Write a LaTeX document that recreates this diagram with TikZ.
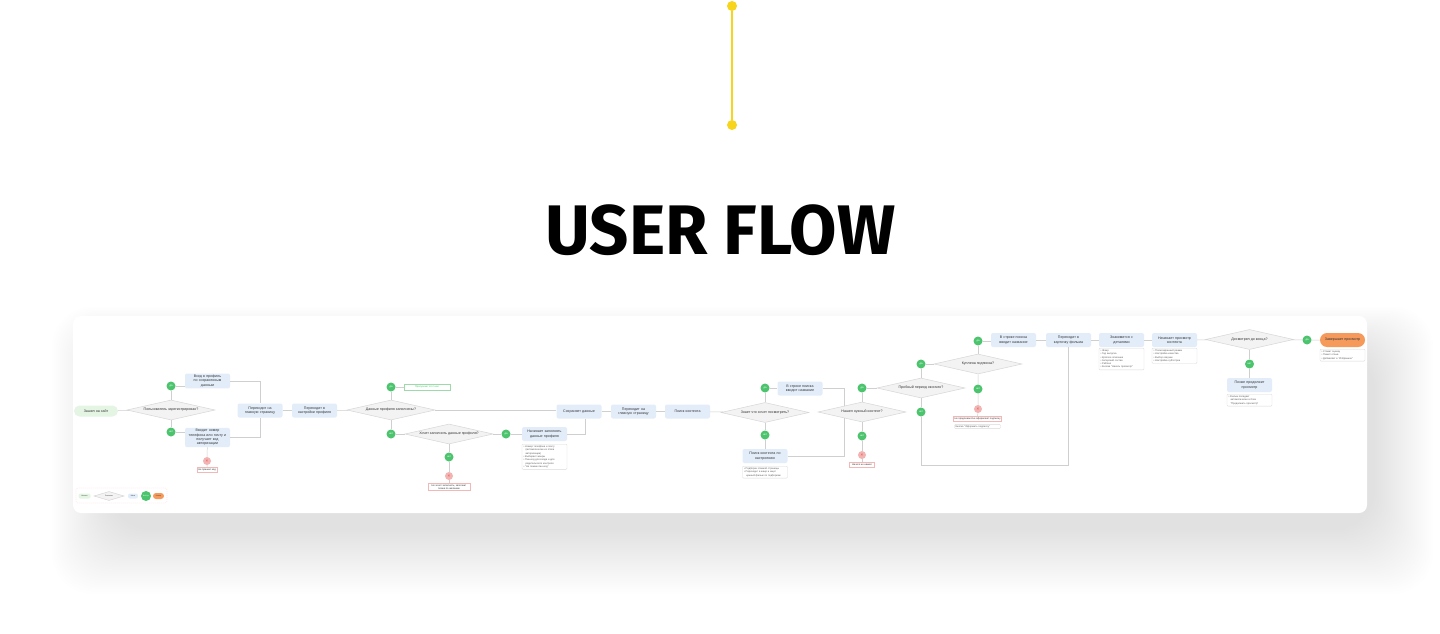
\documentclass[tikz,border=0pt]{standalone}
\usepackage{fontspec}
\setmainfont{Liberation Sans}
\newfontfamily\titlefont{Fira Sans}
\usepackage{graphicx}
\usetikzlibrary{shapes.geometric,calc}
\definecolor{flowyellow}{HTML}{F7D51D}
\definecolor{stepblue}{HTML}{E3EDFA}
\definecolor{startgreen}{HTML}{E4F5E4}
\definecolor{diafill}{HTML}{F3F3F3}
\definecolor{diagray}{HTML}{D6D6D6}
\definecolor{ansgreen}{HTML}{4CC46E}
\definecolor{stoppink}{HTML}{F3B3B3}
\definecolor{stopred}{HTML}{D9483F}
\definecolor{failred}{HTML}{F2B8B8}
\definecolor{okgreen}{HTML}{9ED9AA}
\definecolor{notegray}{HTML}{DADADA}
\definecolor{linegray}{HTML}{CFCFCF}
\definecolor{finishorange}{HTML}{F59A5A}
\definecolor{textgray}{HTML}{333333}
\newcommand\flowfont{\fontsize{3.6}{4.3}\selectfont}
\newcommand\notefont{\fontsize{2.5}{3.3}\selectfont}
\newcommand\legendfont{\fontsize{1.8}{2.2}\selectfont}
\newcommand\cont{\hspace*{2pt}}
\begin{document}
\begin{tikzpicture}[x=1pt, y=-1pt,
    stepbox/.style={rectangle, rounded corners=2pt, fill=stepblue, text=textgray, text width=42pt, minimum height=14pt, align=center, inner sep=1.5pt, font=\flowfont},
    startpill/.style={rectangle, rounded corners=5.5pt, fill=startgreen, text=textgray, minimum width=44pt, minimum height=11pt, inner sep=1pt, font=\flowfont},
    finishpill/.style={rectangle, rounded corners=7pt, fill=finishorange, text=textgray, minimum width=45pt, minimum height=14pt, inner sep=1pt, font=\flowfont},
    decision/.style={diamond, draw=diagray, fill=diafill, line width=0.5pt, aspect=4.4, minimum width=88pt, minimum height=20pt, inner sep=0pt, text=textgray, font=\flowfont},
    answer/.style={circle, fill=ansgreen, text=white, minimum size=9pt, inner sep=0pt, font=\fontsize{2.6}{2.6}\selectfont},
    stopmark/.style={circle, fill=stoppink, text=stopred, minimum size=8pt, inner sep=0pt, font=\fontsize{4.5}{4.5}\selectfont},
    failbox/.style={rectangle, draw=failred, fill=white, line width=0.4pt, text=textgray, align=center, minimum height=5pt, inner sep=1pt, font=\notefont},
    okbox/.style={rectangle, draw=okgreen, fill=white, line width=0.4pt, text=ansgreen, minimum width=46pt, minimum height=6pt, inner sep=0.5pt, font=\notefont},
    notebox/.style={rectangle, draw=notegray, fill=white, rounded corners=1pt, line width=0.4pt, text=textgray!80, text width=42pt, align=left, inner sep=1.5pt, font=\notefont},
    flow/.style={draw=linegray, line width=0.5pt},
    knob/.style={circle, fill=flowyellow, minimum size=10pt, inner sep=0pt}]
\useasboundingbox (0,0) rectangle (1440,634);
\fill[white] (0,0) rectangle (1440,634);
\node[knob] (knobtop) at (732,6) {};
\node[knob] (knobbot) at (732,125) {};
\draw[flowyellow, line width=2.5pt] (knobtop) -- (knobbot);
\node[font=\titlefont\bfseries, text=black, inner sep=0pt] (title) at (720.5,230.5) {\resizebox*{350pt}{51pt}{USER FLOW}};
\foreach \i in {0,...,29}
    \fill[black, opacity=0.003, rounded corners=40pt] (110-2*\i,350-1.5*\i) rectangle (1375+2*\i,530+2.2*\i);
\fill[white, rounded corners=8pt] (73,316) rectangle (1367,513);

\node[startpill] (start) at (96,411) {Зашел на сайт};
\node[decision] (registered) at (171,410) {Пользователь зарегистрирован?};
\node[answer] (regyes) at (171,386) {да};
\node[answer] (regno) at (171,432) {нет};
\node[stepbox] (login) at (207.5,381) {Вход в профиль\\по сохраненным\\данным};
\node[stepbox] (code) at (207.5,437.5) {Вводит номер\\телефона или почту и\\получает код\\авторизации};
\node[stopmark] (codex) at (207,461) {×};
\node[failbox, minimum width=20pt] (nocode) at (207,469.5) {Не пришел код};
\node[stepbox] (home1) at (260,410.5) {Переходит на\\главную страницу};
\node[stepbox] (settings) at (314.5,410.5) {Переходит в\\настройки профиля};
\node[decision] (filled) at (391,410) {Данные профиля заполнены?};
\node[answer] (filledyes) at (391,387) {да};
\node[okbox] (skip) at (427,387) {Пропускает этот шаг};
\node[answer] (filledno) at (391,434) {нет};
\node[decision] (wantfill) at (449,434) {Хочет заполнить данные профиля?};
\node[answer] (wantyes) at (506,434) {да};
\node[stepbox] (fillin) at (544.5,434) {Начинает заполнять\\данные профиля};
\node[notebox, anchor=north] (fillnote) at (544.5,444) {• Номер телефона и почту\\\cont(автоматически из этапа\\\cont авторизации)\\• Выбирает жанры\\• Пин-код для входа и для\\\cont родительского контроля\\• “Не помню пин-код”};
\node[answer] (wantno) at (449,457) {нет};
\node[stopmark] (wantx) at (449,476) {×};
\node[failbox, minimum width=42pt] (laterfill) at (449,487) {Не хочет заполнять, заполнит\\позже по желанию};
\node[stepbox] (save) at (579,411.5) {Сохраняет данные};
\node[stepbox] (home2) at (633.5,411.5) {Переходит на\\главную страницу};
\node[stepbox] (search) at (687.5,411.5) {Поиск контента};
\node[decision] (knows) at (765,412.5) {Знает что хочет посмотреть?};
\node[answer] (knowsyes) at (765,388) {да};
\node[stepbox] (query1) at (800,388.5) {В строке поиска\\вводит название};
\node[answer] (knowsno) at (765,435) {нет};
\node[stepbox] (mood) at (765,456) {Поиск контента по\\настроению};
\node[notebox, anchor=north] (moodnote) at (765,466) {• Подборки главной страницы\\• Переходит в жанр и ищет\\\cont нужный фильм по подборкам};
\node[decision] (found) at (862,412) {Нашел нужный контент?};
\node[answer] (foundyes) at (862,388) {да};
\node[answer] (foundno) at (862,436) {нет};
\node[stopmark] (foundx) at (862,455) {×};
\node[failbox, minimum width=25pt] (nothing) at (862,464.5) {Ничего не нашел};
\node[decision] (trial) at (921,388) {Пробный период окончен?};
\node[answer] (trialyes) at (921,364) {да};
\node[answer] (trialno) at (921,412) {нет};
\node[decision] (paid) at (978,364) {Куплена подписка?};
\node[answer] (paidyes) at (978,341) {да};
\node[stepbox] (query2) at (1013.5,340) {В строке поиска\\вводит название};
\node[answer] (paidno) at (978,389) {нет};
\node[stopmark] (paidx) at (978,409) {×};
\node[failbox, minimum width=47pt] (nosub) at (977.5,419) {Не продлевает/не оформляет подписку};
\node[notebox, text width=44pt, inner sep=1pt] (subbtn) at (977.5,426.5) {Кнопка “Оформить подписку”};
\node[stepbox] (card) at (1068.5,340) {Переходит в\\карточку фильма};
\node[stepbox] (details) at (1121.5,340) {Знакомится с\\деталями};
\node[notebox, anchor=north] (detailsnote) at (1121.5,348) {• Жанр\\• Год выпуска\\• Краткое описание\\• Актерский состав\\• Рейтинг\\• Кнопка “Начать просмотр”};
\node[stepbox] (watch) at (1174.5,340) {Начинает просмотр\\контента};
\node[notebox, anchor=north] (watchnote) at (1174.5,348) {• Полноэкранный режим\\• Настройка качества\\• Выбор озвучки\\• Настройка субтитров};
\node[decision] (ended) at (1249.5,339.5) {Досмотрел до конца?};
\node[answer] (endedyes) at (1307,340) {да};
\node[finishpill] (finish) at (1342.5,340) {Завершает просмотр};
\node[notebox, anchor=north] (finishnote) at (1342.5,349) {• Ставит оценку\\• Пишет отзыв\\• Добавляет в “Избранное”};
\node[answer] (endedno) at (1249.5,364) {нет};
\node[stepbox] (resume) at (1249.5,385) {Позже продолжит\\просмотр};
\node[notebox, anchor=north] (resumenote) at (1249.5,394) {• Фильм попадает\\\cont автоматически в блок\\\cont “Продолжить просмотр”};

\node[draw=failred!70, dashed, dash pattern=on 1pt off 1pt, line width=0.3pt, rounded corners=1.5pt, minimum width=91pt, minimum height=15pt] (legend) at (121.5,495.5) {};
\node[startpill, minimum width=12pt, minimum height=5pt, rounded corners=2pt, font=\legendfont] (keystart) at (84.5,496) {Начало};
\node[decision, minimum width=30pt, minimum height=9pt, font=\legendfont] (keydecision) at (109,496) {Решение};
\node[stepbox, text width=8pt, minimum height=5pt, inner sep=1pt, font=\legendfont] (keystep) at (133,496) {Шаги};
\node[answer, minimum size=10pt, font=\legendfont] (keyanswer) at (146,496) {Выбор};
\node[finishpill, minimum width=11pt, minimum height=6pt, rounded corners=3pt, font=\legendfont] (keyfinish) at (158.5,496) {Конец};

\coordinate (foundtop) at ($(found.north)!0.41!(found.west)$);
\coordinate (foundbot) at ($(found.south)!0.41!(found.west)$);
\coordinate (bypass) at (921,465);
\draw[flow] (start) -- (registered);
\draw[flow] (registered) -- (regyes) (regyes) -- (regyes -| login.west);
\draw[flow] (registered) -- (regno) (regno) -- (regno -| code.west);
\draw[flow] (login.east) -| (home1.north);
\draw[flow] (code.east) -| (home1.south);
\draw[flow] (code) -- (codex) (codex) -- (nocode);
\draw[flow] (home1) -- (settings);
\draw[flow] (settings) -- (filled);
\draw[flow] (filled) -- (filledyes) (filledyes) -- (skip);
\draw[flow] (filled.east) -- (filled.east -| save.west);
\draw[flow] (filled) -- (filledno) (filledno) -- (wantfill);
\draw[flow] (wantfill) -- (wantyes) (wantyes) -- (fillin);
\draw[flow] (wantfill) -- (wantno) (wantno) -- (wantx) (wantx) -- (laterfill);
\draw[flow] (fillin.east) -| ([xshift=6pt]save.south);
\draw[flow] (save) -- (home2);
\draw[flow] (home2) -- (search);
\draw[flow] (search) -- (knows);
\draw[flow] (knows) -- (knowsyes) (knowsyes) -- (knowsyes -| query1.west);
\draw[flow] (knows) -- (knowsno) (knowsno) -- (mood);
\draw[flow] (query1.east) -| (foundtop);
\draw[flow] (mood.east) -| (foundbot);
\draw[flow] (found) -- (foundyes) (foundyes) -- (trial);
\draw[flow] (found) -- (foundno) (foundno) -- (foundx) (foundx) -- (nothing);
\draw[flow] (trial) -- (trialyes) (trialyes) -- (paid);
\draw[flow] (trial) -- (trialno) (trialno) -- (bypass) -| (card.south);
\draw[flow] (paid) -- (paidyes) (paidyes) -- (paidyes -| query2.west);
\draw[flow] (paid) -- (paidno) (paidno) -- (paidx) (paidx) -- (nosub);
\draw[flow] (query2) -- (card);
\draw[flow] (card) -- (details);
\draw[flow] (details) -- (watch);
\draw[flow] (watch) -- (ended);
\draw[flow] (ended) -- (endedyes) (endedyes) -- (finish);
\draw[flow] (ended) -- (endedno) (endedno) -- (resume);
\end{tikzpicture}
\end{document}
